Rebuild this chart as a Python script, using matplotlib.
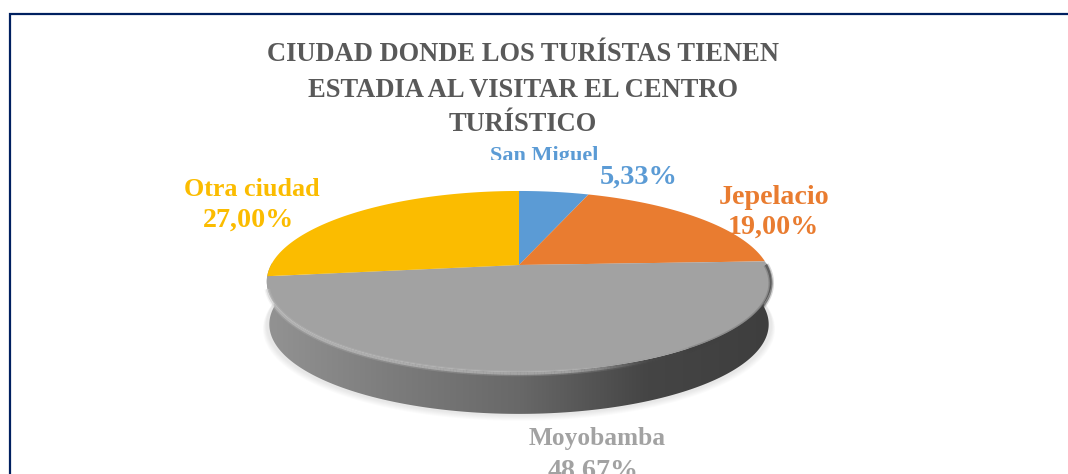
import numpy as np
import matplotlib
matplotlib.use("Agg")
import matplotlib.pyplot as plt
from matplotlib.collections import LineCollection
from matplotlib.colors import LinearSegmentedColormap
from matplotlib.patches import Polygon, Rectangle

plt.rcParams['font.family'] = ['Liberation Serif', 'DejaVu Serif']

# data
ciudades = ["San Miguel", "Jepelacio", "Moyobamba", "Otra ciudad"]
porcentajes = [5.33, 19.00, 48.67, 27.00]
etiquetas = ["5,33%", "19,00%", "48,67%", "27,00%"]
colores = ["#5B9BD5", "#E97C30", "#A2A2A2", "#FBBC00"]
titulo = ["CIUDAD DONDE LOS TURÍSTAS TIENEN", "ESTADIA AL VISITAR EL CENTRO", "TURÍSTICO"]

# pie geometry in pixels, perspective squeezes the back of the disc
cx, cy = 519, 265
ancho, alto, persp = 248, 87.5, 0.182
grosor = 43


def proyectar(theta, r=1.0, dy=0, esc=1.0):
    u = r * np.sin(theta)
    v = r * np.cos(theta)
    d = 1 + persp * v
    return cx + esc * ancho * u / d, cy + dy + esc * alto * v * -1 / d


def rotulo(x, y, texto, color, size=20.2):
    return ax.text(x, y, texto, ha="center", va="center", fontsize=size, fontweight="bold", color=color, zorder=6)


fig = plt.figure(figsize=(10.68, 4.74), dpi=100)
ax = fig.add_axes([0, 0, 1, 1])
ax.set_xlim(0, 1068)
ax.set_ylim(474, 0)
ax.axis("off")

# frame of the pasted chart
ax.plot([9.5, 9.5, 1068], [474, 13.5, 13.5], color="#002060", lw=1.6, solid_joinstyle="miter", zorder=1)

# soft shadow under the disc
t = np.linspace(0, 2 * np.pi, 361)
for extra in range(12, 0, -2):
    x, y = proyectar(t, dy=grosor + extra * 0.35, esc=1 + extra / 800)
    ax.fill(x, y, color="#808080", alpha=0.03, lw=0, zorder=2)

# side of the disc with gradient
t_lado = np.linspace(np.pi / 2 - 0.02, 3 * np.pi / 2 + 0.02, 300)
xa, ya = proyectar(t_lado)
xb, yb = proyectar(t_lado, dy=grosor, esc=0.99)
lado = Polygon(np.r_[np.c_[xa, ya], np.c_[xb, yb][::-1]], closed=True, transform=ax.transData, fc="none", lw=0)
ax.add_patch(lado)
cmap_lado = LinearSegmentedColormap.from_list(
    "lado", [(0, "#939393"), (0.25, "#7c7c7c"), (0.5, "#686868"), (0.75, "#454545"), (1, "#3e3e3e")])
grad = ax.imshow(np.linspace(0, 1, 256)[None, :], cmap=cmap_lado, aspect="auto",
                 extent=(265, 775, 474, 0), zorder=3)
grad.set_clip_path(lado)
ax.set_xlim(0, 1068)
ax.set_ylim(474, 0)

# top surface, one wedge per value
acum = np.r_[0, np.cumsum(porcentajes)] / 100 * 2 * np.pi
for i in range(len(porcentajes)):
    ang = np.linspace(acum[i], acum[i + 1], 120)
    x, y = proyectar(ang)
    ax.fill(np.r_[cx, x], np.r_[cy, y], color=colores[i], lw=0, zorder=4)

# bevel on the front rim, light at the front and fading into dark on the right
t_rim = np.linspace(np.pi / 2 - 0.02, 3 * np.pi / 2 - 0.25, 260)
x, y = proyectar(t_rim, dy=1.5)
puntos = np.c_[x, y]
segs = np.stack([puntos[:-1], puntos[1:]], axis=1)
xm = x[:-1]
rgba = np.zeros((len(xm), 4))
claro = np.clip((690 - xm) / 120, 0, 1)
rgba[:, :3] = (claro[:, None] * np.array([0.78, 0.78, 0.78]) + (1 - claro[:, None]) * np.array([0.25, 0.25, 0.25]))
rgba[:, 3] = np.where(xm > 690, 0.75, 0.7 * np.clip(np.abs(xm - 660) / 60, 0.15, 1))
for w, f in [(4.0, 0.3), (2.0, 0.8)]:
    capa = rgba.copy()
    capa[:, 3] *= f
    ax.add_collection(LineCollection(segs, colors=capa, linewidths=w, zorder=5, capstyle="butt"))

# title
for linea, yt in zip(titulo, [54, 90, 124]):
    ax.text(523, yt, linea, ha="center", va="center", fontsize=19.1, fontweight="bold", color="#595959", zorder=6)

# labels
t1 = rotulo(544.5, 155.5, ciudades[0], colores[0], 16)
t1.set_clip_path(Rectangle((440, 140), 200, 19.5, transform=ax.transData))
t1.set_clip_on(True)
rotulo(639, 177, etiquetas[0], colores[0], 20.4)
rotulo(774, 197, ciudades[1], colores[1])
rotulo(773, 227, etiquetas[1], colores[1])
rotulo(597.5, 438, ciudades[2], colores[2], 18.3)
rotulo(593, 471, etiquetas[2], colores[2])
rotulo(252, 189, ciudades[3], colores[3], 18.8)
rotulo(249, 220, etiquetas[3], colores[3])

fig.savefig("out.png", dpi=100)
